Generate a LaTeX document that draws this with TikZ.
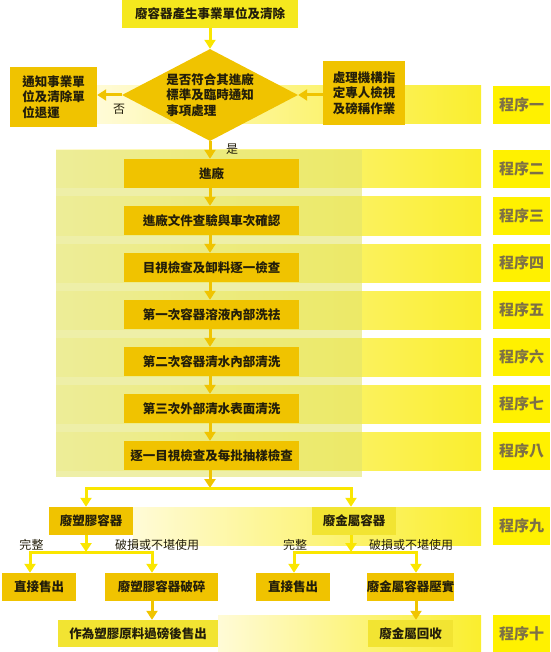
\documentclass[tikz,border=0pt]{standalone}
\usepackage{fontspec}
\setmainfont{Noto Sans CJK TC}
\usetikzlibrary{positioning,arrows.meta,shapes.geometric,calc}

\definecolor{gold}{RGB}{240,195,0}
\definecolor{lemon}{RGB}{255,241,0}
\definecolor{topfill}{RGB}{245,232,30}
\definecolor{soft}{RGB}{242,228,50}
\definecolor{pale}{RGB}{255,251,215}
\definecolor{bandy}{RGB}{250,238,45}
\definecolor{wash}{RGB}{226,228,110}
\definecolor{ink}{RGB}{35,30,10}
\definecolor{tagink}{RGB}{125,112,70}
\definecolor{goldarrow}{RGB}{240,196,0}
\definecolor{yelarrow}{RGB}{250,230,0}

\begin{document}
\begin{tikzpicture}[x=1pt, y=-1pt,
    box/.style={rectangle, fill=gold, inner sep=0pt, minimum height=29pt, text=ink, font=\bfseries\fontsize{12.5}{15}\selectfont},
    note/.style={box, align=left, font=\bfseries\fontsize{12.5}{15.5}\selectfont},
    tag/.style={rectangle, fill=lemon, inner sep=0pt, minimum width=57pt, minimum height=38pt, text=tagink, font=\bfseries\fontsize{15}{18}\selectfont},
    lbl/.style={inner sep=0pt, text=ink, font=\fontsize{12}{14}\selectfont},
    garr/.style={-{Triangle[width=11pt,length=9pt]}, line width=3pt, goldarrow},
    yarr/.style={-{Triangle[width=11pt,length=9pt]}, line width=3pt, yelarrow}
]
\useasboundingbox (0,0) rectangle (550,652);

% Bands
\shade[left color=pale, right color=bandy] (97,86) rectangle (481,124);
\foreach \c in {169,216,263,310,357,404,451}
    \shade[left color=pale, right color=bandy] (56,\c-19) rectangle (481,\c+19);
\shade[left color=pale, right color=bandy] (133,507) rectangle (481,545);
\shade[left color=pale, right color=bandy] (218,615) rectangle (481,652);
\fill[wash, opacity=0.6] (56,150) rectangle (362,477);

% Tags
\foreach \c/\n [count=\i] in {105/一,169/二,216/三,263/四,310/五,357/六,404/七,451/八,526/九}
    \node[tag] (t\i) at (521.5,\c) {程序\n};
\node[tag, minimum height=37pt] (t10) at (521.5,633.5) {程序十};

% Top part
\node[box, fill=topfill, minimum width=176pt, minimum height=28pt] (src) at (210,14) {廢容器產生事業單位及清除};
\node[diamond, fill=gold, inner sep=0pt, aspect=1.9, minimum width=176pt, minimum height=92pt,
    text=ink, align=left, font=\bfseries\fontsize{12.5}{15.5}\selectfont] (dia) at (210,95)
    {是否符合其進廠\\標準及臨時通知\\事項處理};
\node[note, minimum width=87pt, minimum height=60pt] (notify) at (53.5,97) {通知事業單\\位及清除單\\位退運};
\node[note, minimum width=82pt, minimum height=64pt] (check) at (364,93) {處理機構指\\定專人檢視\\及磅稱作業};
\node[lbl] (no) at (119,109) {否};
\node[lbl] (yes) at (232,149) {是};

% Steps
\foreach \c/\t [count=\i from 2] in {169/進廠,216/進廠文件查驗與車次確認,263/目視檢查及卸料逐一檢查,
    310/第一次容器溶液內部洗祛,357/第二次容器清水內部清洗,404/第三次外部清水表面清洗,451/逐一目視檢查及每批抽樣檢查}
    \node[box, minimum width=175pt] (s\i) at (211.5,\c+4.5) {\t};

% Sorting
\node[box, minimum width=84pt, minimum height=28pt] (plas) at (91,521) {廢塑膠容器};
\node[box, fill=soft, minimum width=84pt, minimum height=28pt] (metal) at (354,521) {廢金屬容器};
\node[lbl] (okA) at (31.5,545) {完整};
\node[lbl] (badA) at (157,545) {破損或不堪使用};
\node[lbl] (okB) at (295,545) {完整};
\node[lbl] (badB) at (411,545) {破損或不堪使用};
\node[box, minimum width=74pt, minimum height=28pt] (sellA) at (39,587) {直接售出};
\node[box, minimum width=113pt, minimum height=28pt] (crush) at (161.5,587) {廢塑膠容器破碎};
\node[box, minimum width=74pt, minimum height=28pt] (sellB) at (293,587) {直接售出};
\node[box, minimum width=85pt, minimum height=28pt] (press) at (410.5,587) {廢金屬容器壓實};
\node[box, fill=soft, minimum width=160pt, minimum height=27pt] (resin) at (138,633.5) {作為塑膠原料過磅後售出};
\node[box, fill=soft, minimum width=85pt, minimum height=27pt] (scrap) at (410.5,633.5) {廢金屬回收};

\coordinate (fork) at (210,488);
\coordinate (forkL) at (86,488);
\coordinate (forkR) at (351,488);
\coordinate (pf) at (86,552);
\coordinate (pfL) at (30,552);
\coordinate (pfR) at (152,552);
\coordinate (mf) at (351,552);
\coordinate (mfL) at (294,552);
\coordinate (mfR) at (416,552);

% Connections
\draw[yarr] (src.south) -- (dia.north);
\draw[garr] (dia.west) -- (dia.west -| notify.east);
\draw[garr] (dia.east -| check.west) -- (dia.east);
\draw[garr] (dia.south) -- (s2.north -| dia.south);
\foreach \i/\j in {2/3,3/4,4/5,5/6,6/7,7/8}
    \draw[garr] (s\i.south -| dia.south) -- (s\j.north -| dia.south);
\draw[garr] (s8.south -| fork) -- (fork);
\draw[yarr] (fork) -- (forkL) -- (plas.north -| forkL);
\draw[yarr] (fork) -- (forkR) -- (metal.north -| forkR);
\draw[yarr] (plas.south -| pf) -- (pf);
\draw[yarr] (pf) -- (pfL) -- (sellA.north -| pfL);
\draw[yarr] (pf) -- (pfR) -- (crush.north -| pfR);
\draw[yarr] (metal.south -| mf) -- (mf);
\draw[yarr] (mf) -- (mfL) -- (sellB.north -| mfL);
\draw[yarr] (mf) -- (mfR) -- (press.north -| mfR);
\draw[garr] (crush.south -| pfR) -- (resin.north -| pfR);
\draw[garr] (press.south -| mfR) -- (scrap.north -| mfR);

\end{tikzpicture}
\end{document}
